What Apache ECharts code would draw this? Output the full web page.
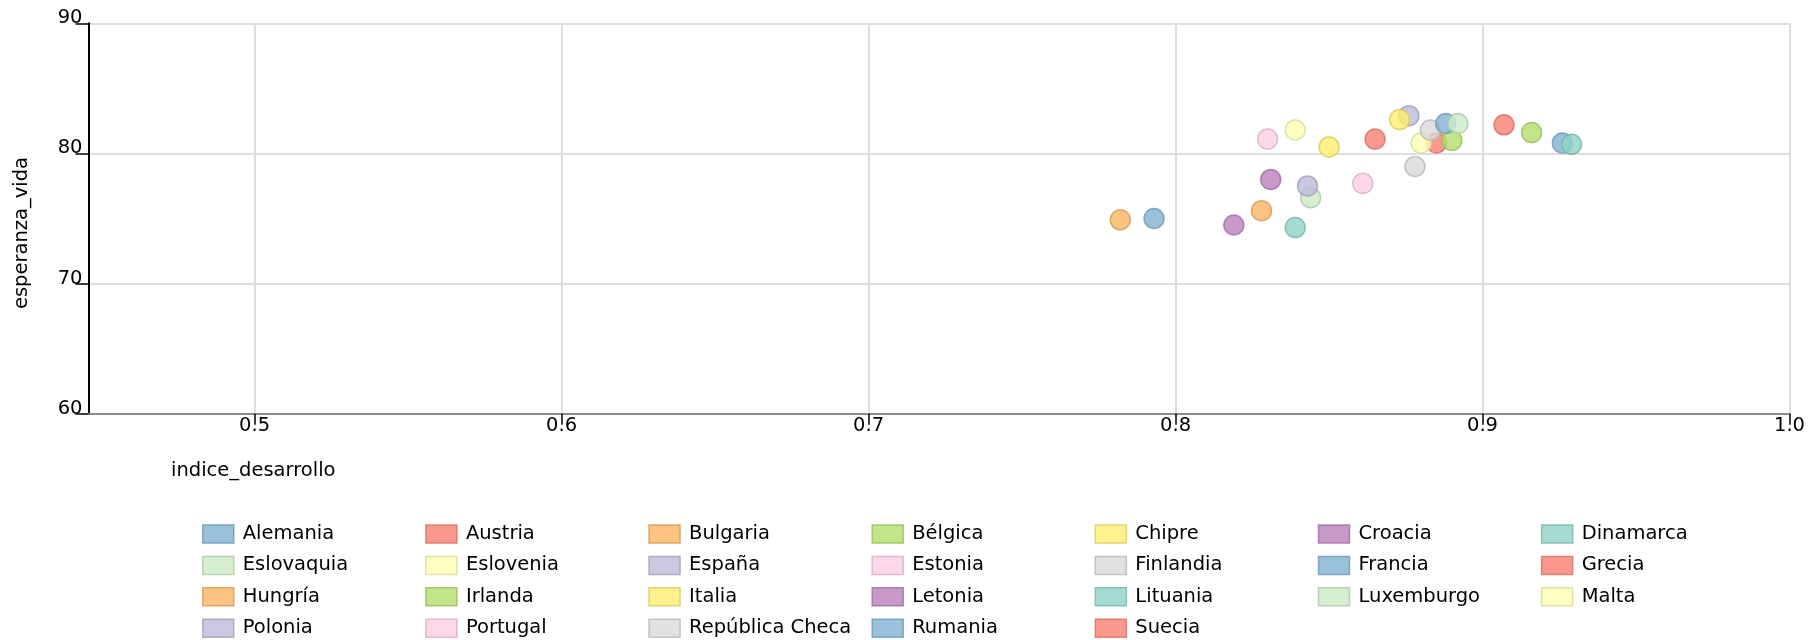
<!DOCTYPE html>
<html>
<head>
<meta charset="utf-8">
<script src="https://cdn.jsdelivr.net/npm/echarts@6/dist/echarts.min.js"></script>
<style>
  html, body { margin: 0; padding: 0; background: #fff; }
  #chart { width: 1816px; height: 640px; }
</style>
</head>
<body>
<div id="chart"></div>
<script>
const countries = ['Alemania','Austria','Bulgaria','Bélgica','Chipre','Croacia','Dinamarca','Eslovaquia','Eslovenia','España','Estonia','Finlandia','Francia','Grecia','Hungría','Irlanda','Italia','Letonia','Lituania','Luxemburgo','Malta','Polonia','Portugal','República Checa','Rumania','Suecia'];
const indiceDesarrollo = [0.926,0.885,0.782,0.890,0.850,0.831,0.929,0.844,0.880,0.876,0.861,0.883,0.888,0.865,0.828,0.916,0.873,0.819,0.839,0.892,0.839,0.843,0.830,0.878,0.793,0.907];
const esperanzaVida = [80.8,80.8,74.9,81.0,80.5,78.0,80.7,76.6,80.8,82.9,77.7,81.8,82.3,81.1,75.6,81.6,82.6,74.5,74.3,82.3,81.8,77.5,81.1,79.0,75.0,82.2];
const xTickLabels = ['0.5','0.6','0.7','0.8','0.9','1.0'];
const yTickLabels = ['60','70','80','90'];
const xTitle = 'indice_desarrollo';
const yTitle = 'esperanza_vida';

const palette = ['#80b1d3','#fb8072','#fdb462','#b3de69','#ffed6f','#bc80bd','#8dd3c7','#ccebc5','#ffffb3','#bebada','#fccde5','#d9d9d9'];
function darker(hex, k) {
  const n = parseInt(hex.slice(1), 16);
  const r = Math.round(((n >> 16) & 255) * k), g = Math.round(((n >> 8) & 255) * k), b = Math.round((n & 255) * k);
  return 'rgb(' + r + ',' + g + ',' + b + ')';
}
const FONT = '"DejaVu Sans", "Noto Sans", sans-serif';
const FS = 19.5;

const chart = echarts.init(document.getElementById('chart'), null, { renderer: 'canvas' });

const series = countries.map((name, i) => {
  const c = palette[i % palette.length];
  return {
    name: name,
    type: 'scatter',
    data: [[indiceDesarrollo[i], esperanzaVida[i]]],
    symbol: 'circle',
    symbolSize: 20,
    itemStyle: { color: c, borderColor: darker(c, 0.85), borderWidth: 1.5, opacity: 0.8 },
    emphasis: { disabled: true }
  };
});

const option = {
  animation: false,
  backgroundColor: '#fff',
  color: palette,
  textStyle: { fontFamily: FONT },
  grid: { left: 88.5, right: 26.5, top: 23.3, bottom: 226.3, containLabel: false },
  xAxis: {
    type: 'value',
    min: 0.4459,
    max: 1.0,
    minInterval: 0.1,
    maxInterval: 0.1,
    axisLine: { show: true, onZero: false, lineStyle: { color: '#8c8c8c', width: 2 } },
    axisTick: { show: true, length: 11, lineStyle: { color: '#000', width: 1.5 } },
    axisLabel: {
      show: true, margin: 2, color: '#000', fontFamily: FONT, fontSize: FS,
      showMinLabel: false,
      formatter: function (v) {
        const l = xTickLabels.find(t => Math.abs(parseFloat(t) - v) < 1e-6);
        return l === undefined ? '' : l;
      }
    },
    splitLine: { show: true, lineStyle: { color: '#dedede', width: 2 } }
  },
  yAxis: {
    type: 'value',
    min: 60,
    max: 90,
    interval: 10,
    axisLine: { show: true, onZero: false, lineStyle: { color: '#000', width: 2 } },
    axisTick: { show: true, length: 13, lineStyle: { color: '#000', width: 1.5 } },
    axisLabel: {
      show: true, margin: 6, color: '#000', fontFamily: FONT, fontSize: FS,
      verticalAlign: 'bottom', lineHeight: 10,
      formatter: function (v) {
        const l = yTickLabels.find(t => Math.abs(parseFloat(t) - v) < 1e-6);
        return l === undefined ? '' : l;
      }
    },
    splitLine: { show: true, lineStyle: { color: '#dedede', width: 2 } }
  },
  legend: {
    show: true,
    orient: 'horizontal',
    left: 202,
    top: 518.3,
    width: 1570,
    padding: 0,
    itemGap: 0,
    itemWidth: 31,
    itemHeight: 18,
    icon: 'rect',
    itemStyle: { borderWidth: 1.5 },
    selectedMode: false,
    textStyle: {
      color: '#000', fontFamily: FONT, fontSize: FS,
      width: 182.4, lineHeight: 31.4, padding: [0, 0, 0, 4], overflow: 'none'
    },
    data: countries
  },
  graphic: [
    {
      type: 'text', x: 171, y: 470.5, silent: true,
      style: { text: xTitle, font: FS + 'px ' + FONT, fill: '#000', align: 'left', verticalAlign: 'middle' }
    },
    {
      type: 'text', x: 22, y: 233, rotation: Math.PI / 2, silent: true,
      style: { text: yTitle, font: FS + 'px ' + FONT, fill: '#000', align: 'center', verticalAlign: 'middle' }
    }
  ],
  series: series
};
chart.setOption(option);
</script>
</body>
</html>
